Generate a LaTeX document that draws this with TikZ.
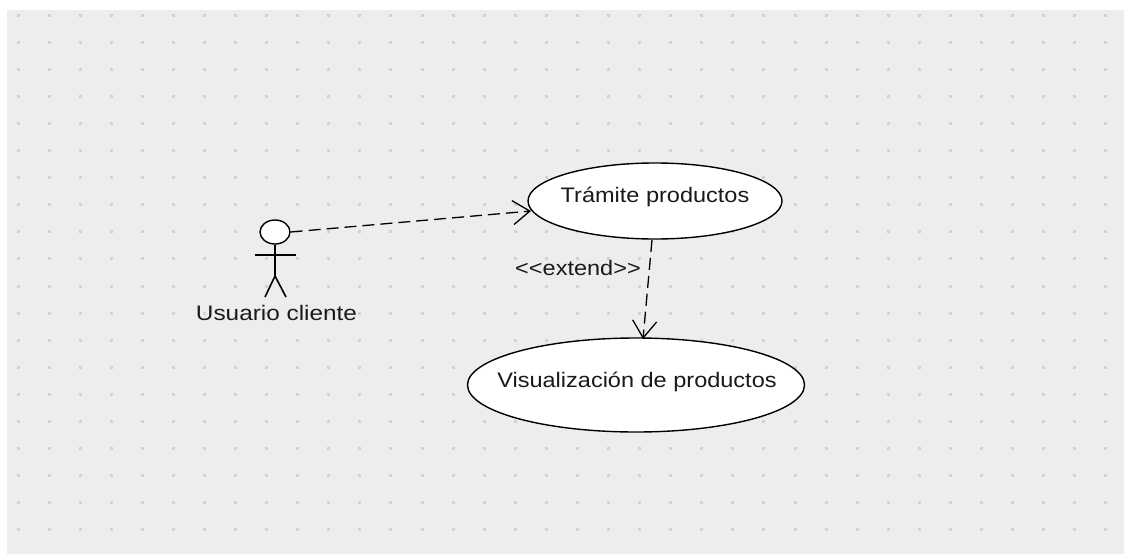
\documentclass[tikz,border=0pt]{standalone}
\usepackage{fontspec}
\setmainfont{Liberation Sans}
\newfontfamily\widefont[FakeStretch=1.12]{Liberation Sans}
\newfontfamily\widerfont[FakeStretch=1.16]{Liberation Sans}
\usetikzlibrary{shapes.geometric,arrows.meta}
\definecolor{bggray}{HTML}{EDEDED}
\definecolor{dotgray}{HTML}{D2D2D2}
\definecolor{inkgray}{HTML}{1A1A1A}
\tikzset{
  usecase/.style={ellipse, draw=black, fill=white, line width=1.4pt, inner sep=0pt},
  dep/.style={draw=black, line width=1.3pt, dash pattern=on 12pt off 6pt, -{Straight Barb[length=17pt,width=24pt,line width=1.3pt]}},
  stick/.style={line width=1.6pt, draw=black},
  lbl/.style={font=\widefont\fontsize{21}{24}\selectfont, inner sep=0pt, text=inkgray}
}
\begin{document}
\begin{tikzpicture}[x=1pt,y=-1pt]
\useasboundingbox (0,0) rectangle (1124,554);
\fill[white] (0,0) rectangle (1124,554);
\fill[bggray] (7,10) rectangle (1124,554);
\foreach \i in {0,...,35} {
  \foreach \j in {0,...,19} {
    \fill[dotgray] ({18+31.08*\i-1.5},{15+27.1*\j-1.5}) rectangle ++(3,3);
  }
}
% actor
\node[ellipse, draw=black, fill=white, line width=1.4pt, minimum width=30pt, minimum height=24pt, inner sep=0pt] (head) at (275,232) {};
\coordinate (hip) at (275,276);
\draw[stick] (head.south) -- (hip);
\draw[stick] (255,255) -- (296,255);
\draw[stick] (hip) -- (265,297);
\draw[stick] (hip) -- (286,297);
\node[lbl, font=\widerfont\fontsize{21}{24}\selectfont] (actlbl) at (276.5,313) {Usuario cliente};
% use cases
\node[usecase, minimum width=254pt, minimum height=76pt] (tram) at (655,201) {};
\node[lbl] (tramtxt) at (655,197) {Trámite productos};
\node[usecase, minimum width=337pt, minimum height=94pt] (vis) at (636,385) {};
\node[lbl] (vistxt) at (637,382) {Visualización de productos};
% connectors
\coordinate (tramin) at (531,211);
\draw[dep] (head.east) -- (tramin);
\coordinate (extstart) at (652,240);
\coordinate (extend) at (643,339);
\draw[dep] (extstart) -- (extend);
\node[lbl] (extlbl) at (578,268) {<{}<extend>{}>};
\end{tikzpicture}
\end{document}
